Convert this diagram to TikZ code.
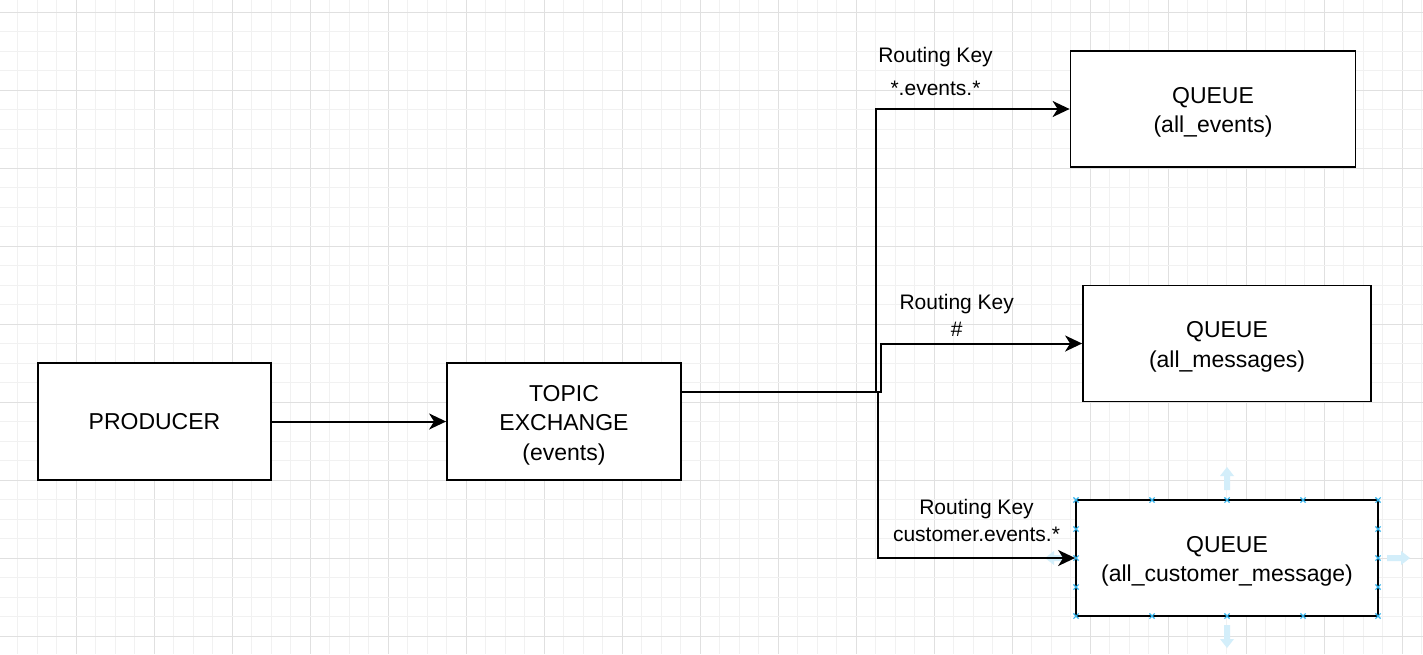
\documentclass[tikz,border=0pt]{standalone}
\usepackage{fontspec}
\setmainfont{Liberation Sans}
\usetikzlibrary{arrows.meta,calc}
\definecolor{gridminor}{HTML}{F1F1F1}
\definecolor{gridmajor}{HTML}{E0E0E0}
\definecolor{handlex}{HTML}{2FB2EC}
\definecolor{handlefill}{HTML}{D3EEFA}
\tikzset{
  box/.style={draw=black, line width=1.8pt, fill=white, inner sep=0pt, align=center,
    font=\fontsize{23}{29.5}\selectfont},
  boxtext/.style={label={[inner sep=0pt, align=center, font=\fontsize{23}{29.5}\selectfont, yshift=-3.5pt]center:#1}},
  conn/.style={draw=black, line width=2pt, -{Stealth[length=17pt,width=16pt,inset=5pt]}},
  lbl/.style={inner sep=0pt, align=center},
  gminor/.style={draw=gridminor, line width=1pt},
  gmajor/.style={draw=gridmajor, line width=1pt},
  hx/.style={draw=handlex, line width=1.1pt},
  handle/.pic={\fill[handlefill] (0,-3) -- (14,-3) -- (14,-7) -- (23,0) -- (14,7) -- (14,3) -- (0,3) -- cycle;}
}
\begin{document}
\begin{tikzpicture}[x=1pt,y=-1pt]
\useasboundingbox (0,0) rectangle (1423,654);
\fill[white] (0,0) rectangle (1423,654);
% grid
\begin{scope}
\clip (0,0) rectangle (1423,654);
\foreach \i in {0,...,72}{
  \pgfmathsetmacro\gx{17.8+19.5*\i}
  \pgfmathtruncatemacro\gm{mod(\i,4)}
  \ifnum\gm=3 \draw[gmajor] (\gx,0) -- (\gx,654); \else \draw[gminor] (\gx,0) -- (\gx,654); \fi
}
\foreach \j in {0,...,33}{
  \pgfmathsetmacro\gy{12.3+19.5*\j}
  \pgfmathtruncatemacro\gm{mod(\j,4)}
  \ifnum\gm=0 \draw[gmajor] (0,\gy) -- (1423,\gy); \else \draw[gminor] (0,\gy) -- (1423,\gy); \fi
}
\end{scope}

% boxes
\node[box, minimum width=233pt, minimum height=117pt] (prod) at (154.5,421.5) {PRODUCER};
\node[box, minimum width=234pt, minimum height=117pt, boxtext={TOPIC\\EXCHANGE\\(events)}] (ex) at (564,421.5) {};
\node[box, minimum width=285pt, minimum height=116pt, boxtext={QUEUE\\(all\_events)}] (q1) at (1213,109) {};
\node[box, minimum width=288pt, minimum height=116pt, boxtext={QUEUE\\(all\_messages)}] (q2) at (1227,343.5) {};
\node[box, minimum width=302pt, minimum height=116pt, boxtext={QUEUE\\(all\_customer\_message)}] (q3) at (1227,558) {};

% selection handles around q3
\pic[rotate=90] at (1227,490) {handle};
\pic[rotate=-90] at (1227,625) {handle};
\pic at (1387,558) {handle};
\pic[rotate=180] at (1068,558) {handle};
\foreach \hxp/\hyp in {1076/500,1152/500,1227/500,1303/500,1378/500,
                       1076/616,1152/616,1227/616,1303/616,1378/616,
                       1076/529,1076/558,1076/587,1378/529,1378/558,1378/587}{
  \draw[hx] (\hxp-2.6,\hyp-2.6) -- (\hxp+2.6,\hyp+2.6) (\hxp-2.6,\hyp+2.6) -- (\hxp+2.6,\hyp-2.6);
}

% connectors
\coordinate (exo) at ($(ex.east)+(0,-29.5)$);
\coordinate (j1) at (876,392);
\coordinate (j2) at (881,392);
\coordinate (j3) at (878,392);
\draw[conn] (prod) -- (ex);
\draw[conn] (exo) -- (j1) |- (q1.west);
\draw[conn] (exo) -- (j2) |- (q2.west);
\draw[conn] (exo) -- (j3) |- (q3.west);

% labels
\node[lbl, font=\fontsize{21}{33}\selectfont] (l1) at (935.5,71.5) {Routing Key\\*.events.*};
\node[lbl, font=\fontsize{21}{27}\selectfont] (l2) at (956.7,315.5) {Routing Key\\\#};
\node[lbl, font=\fontsize{21}{27}\selectfont] (l3) at (976.5,520.5) {Routing Key\\customer.events.*};
\end{tikzpicture}
\end{document}
